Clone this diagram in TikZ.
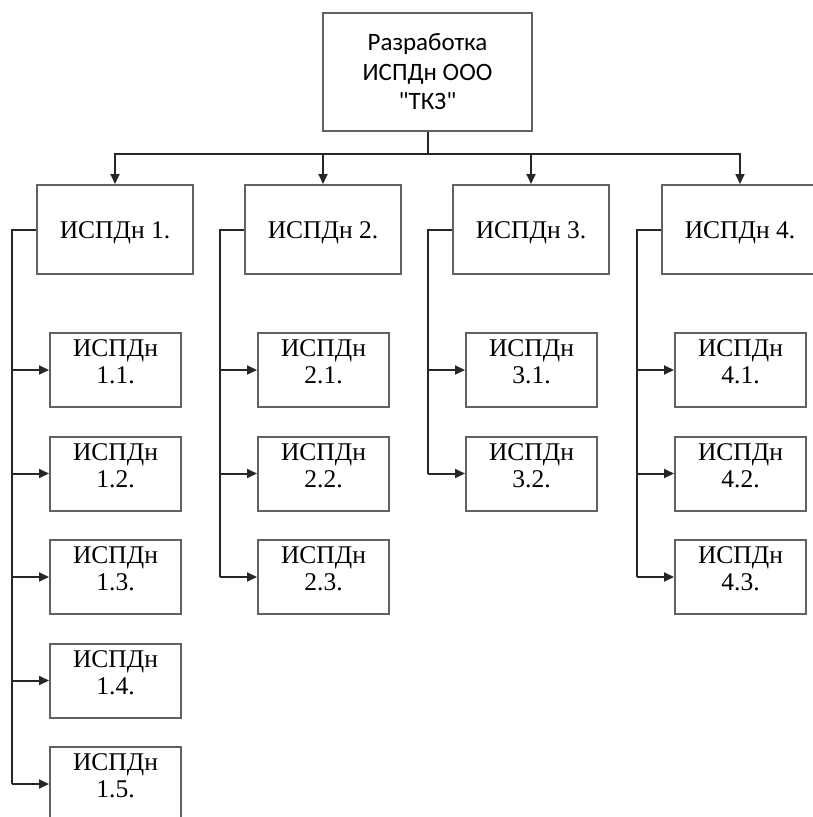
\documentclass[tikz,border=0pt]{standalone}
\usepackage{fontspec}
\setmainfont{Liberation Serif}
\newfontfamily\topfont{Carlito}[Ligatures=ResetAll]
\usetikzlibrary{arrows.meta,calc}
\begin{document}
\begin{tikzpicture}[x=1pt,y=-1pt,
  box/.style={draw=black!62, line width=2pt, fill=white, inner sep=0pt},
  topbox/.style={box, minimum width=209pt, minimum height=118pt, align=center,
    font=\topfont\fontsize{25}{29.5}\selectfont},
  lvlbox/.style={box, minimum width=156pt, minimum height=89pt},
  lvltext/.style={inner sep=0pt, font=\fontsize{25.5}{27}\selectfont},
  kidbox/.style={box, minimum width=131pt, minimum height=74pt},
  kidtext/.style={align=center, inner sep=0pt, font=\fontsize{25.5}{27}\selectfont},
  conn/.style={draw=black!85, line width=2pt},
  arr/.style={conn, -{Triangle[length=10pt,width=9pt]}}]
\useasboundingbox (0,0) rectangle (812,817);
\node[topbox] (top) at (427.5,72) {Разработка\\ИСПДн ООО\\"ТКЗ"};
\coordinate (bus) at (427.5,154);
\draw[conn] (top.south) -- (bus);
\foreach \i/\cx/\n in {1/115/5, 2/323/3, 3/531/2, 4/740/3} {
  \node[lvlbox] (g\i) at (\cx,229.5) {};
  \node[lvltext] (l\i) at ($(g\i.center)+(0,3)$) {ИСПДн \i.};
  \draw[arr] (bus) -| (g\i.north);
  \coordinate (t\i) at ($(g\i.west)+(-24,0)$);
  \foreach \j in {1,...,\n} {
    \node[kidbox] (c\i\j) at (\cx+0.5, {370+103.5*(\j-1)}) {};
    \node[kidtext] (k\i\j) at ($(c\i\j.center)+(0,-8)$) {ИСПДн\\\i.\j.};
    \draw[arr] (t\i |- c\i\j.west) -- (c\i\j.west);
  }
  \draw[conn] (g\i.west) -- (t\i) -- (t\i |- c\i\n.west);
}
\end{tikzpicture}
\end{document}
